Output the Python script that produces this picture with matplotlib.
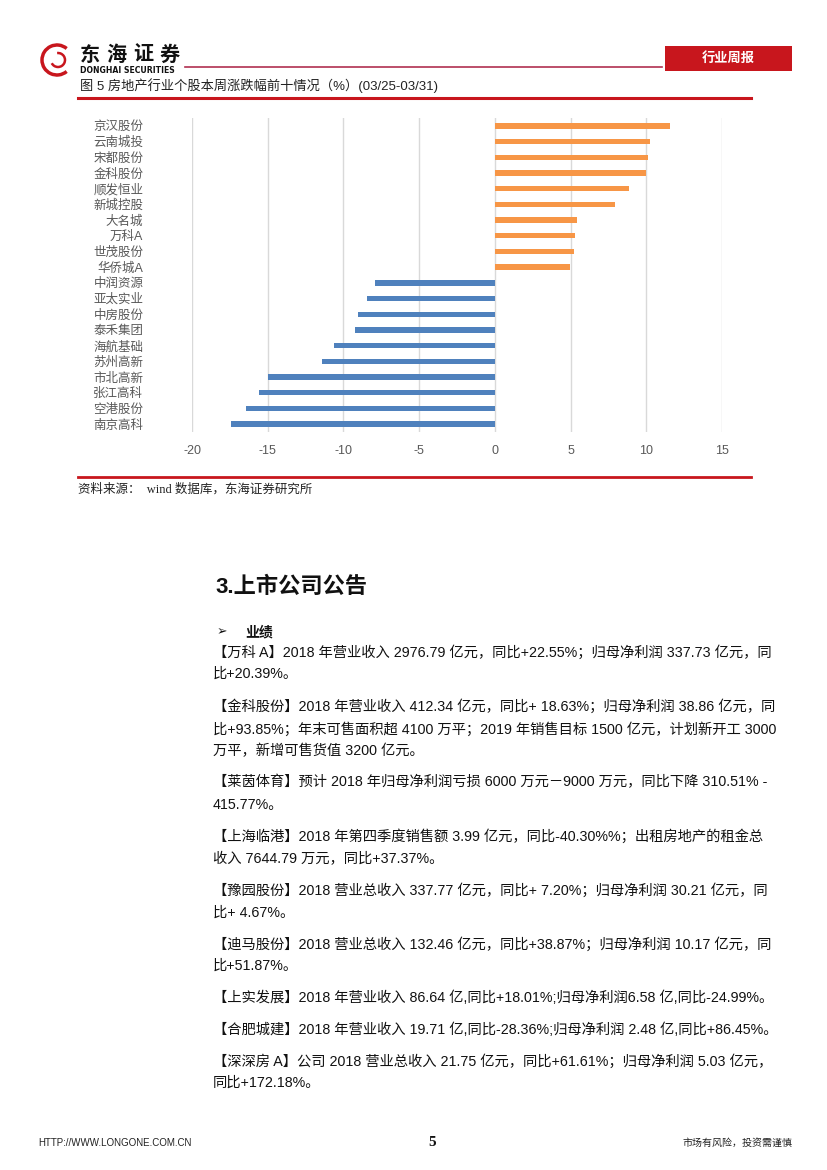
import matplotlib
matplotlib.use('Agg')
import matplotlib.pyplot as plt
from matplotlib.patches import Rectangle, Arc
from matplotlib.lines import Line2D

W, H = 827, 1170
CJK = ['Liberation Sans', 'Noto Sans CJK SC', 'DejaVu Sans']

# 图5 数据（%）
stocks = ['京汉股份', '云南城投', '宋都股份', '金科股份', '顺发恒业', '新城控股', '大名城',
          '万科A', '世茂股份', '华侨城A', '中润资源', '亚太实业', '中房股份', '泰禾集团',
          '海航基础', '苏州高新', '市北高新', '张江高科', '空港股份', '南京高科']
changes = [11.57, 10.24, 10.11, 9.98, 8.87, 7.96, 5.42, 5.27, 5.2, 4.93,
           -7.93, -8.42, -9.02, -9.24, -10.6, -11.44, -15.0, -15.6, -16.44, -17.4]
xticks = [-20, -15, -10, -5, 0, 5, 10, 15]

body_lines = [
    (652, '【万科 A】2018 年营业收入 2976.79 亿元，同比+22.55%；归母净利润 337.73 亿元，同'),
    (674, '比+20.39%。'),
    (706, '【金科股份】2018 年营业收入 412.34 亿元，同比+ 18.63%；归母净利润 38.86 亿元，同'),
    (729, '比+93.85%；年末可售面积超 4100 万平；2019 年销售目标 1500 亿元，计划新开工 3000'),
    (751, '万平，新增可售货值 3200 亿元。'),
    (782, '【莱茵体育】预计 2018 年归母净利润亏损 6000 万元－9000 万元，同比下降 310.51% -'),
    (805, '415.77%。'),
    (836, '【上海临港】2018 年第四季度销售额 3.99 亿元，同比-40.30%%；出租房地产的租金总'),
    (859, '收入 7644.79 万元，同比+37.37%。'),
    (890, '【豫园股份】2018 营业总收入 337.77 亿元，同比+ 7.20%；归母净利润 30.21 亿元，同'),
    (913, '比+ 4.67%。'),
    (944, '【迪马股份】2018 营业总收入 132.46 亿元，同比+38.87%；归母净利润 10.17 亿元，同'),
    (966, '比+51.87%。'),
    (998, '【上实发展】2018 年营业收入 86.64 亿,同比+18.01%;归母净利润6.58 亿,同比-24.99%。'),
    (1030, '【合肥城建】2018 年营业收入 19.71 亿,同比-28.36%;归母净利润 2.48 亿,同比+86.45%。'),
    (1061, '【深深房 A】公司 2018 营业总收入 21.75 亿元，同比+61.61%；归母净利润 5.03 亿元，'),
    (1083, '同比+172.18%。'),
]


def fx(x):
    return x / W


def fy(y):
    return 1 - y / H


fig = plt.figure(figsize=(8.27, 11.7), dpi=100)
fig.patch.set_facecolor('white')

# 页眉
red = '#c8161d'
fig.add_artist(Arc((fx(57), fy(60)), 30 / W, 30 / H, theta1=40, theta2=320,
                   transform=fig.transFigure, color=red, lw=2.5))
fig.add_artist(Arc((fx(58), fy(60)), 14 / W, 14 / H, theta1=200, theta2=100,
                   transform=fig.transFigure, color=red, lw=1.8))
for i, ch in enumerate('东海证券'):
    fig.text(fx(80 + i * 26.5), fy(55), ch, fontsize=14.5, fontweight='bold',
             family=CJK, va='center', ha='left', color='#111111')
fig.text(fx(80), fy(70.5), 'DONGHAI SECURITIES', fontsize=5.6, fontweight='bold',
         family='DejaVu Sans', va='center', ha='left', color='#111111')
fig.add_artist(Line2D([fx(185), fx(662)], [fy(67), fy(67)], color='#b03050', lw=1.2,
                      transform=fig.transFigure))
fig.add_artist(Rectangle((fx(665), fy(71)), 127 / W, 25 / H, transform=fig.transFigure,
                         facecolor=red, edgecolor='none'))
fig.text(fx(728), fy(58.5), '行业周报', fontsize=9.5, fontweight='bold', family=CJK,
         color='white', ha='center', va='center')

# 图标题
fig.text(fx(80), fy(86), '图 5 房地产行业个股本周涨跌幅前十情况（%）(03/25-03/31)',
         fontsize=9.5, family=CJK, va='center', ha='left', color='#222222')
fig.add_artist(Line2D([fx(78), fx(751)], [fy(98), fy(98)], color=red, lw=2.2,
                      transform=fig.transFigure))

# 柱状图
ax = fig.add_axes([fx(192), fy(432), 530 / W, 314 / H])
ypos = list(range(len(stocks)))
colors = ['#f79646' if v > 0 else '#4f81bd' for v in changes]
ax.barh(ypos, changes, height=0.34, color=colors, zorder=3)
ax.set_xlim(-20, 15)
ax.set_ylim(len(stocks) - 0.5, -0.5)
ax.set_xticks(xticks)
ax.set_xticklabels([str(t) for t in xticks])
ax.set_yticks(ypos)
ax.set_yticklabels(stocks, family=CJK)
ax.grid(axis='x', color='#d9d9d9', lw=1, zorder=0)
for s in ax.spines.values():
    s.set_visible(False)
ax.tick_params(axis='x', length=0, pad=9, labelsize=9, labelcolor='#595959')
ax.tick_params(axis='y', length=0, pad=35, labelsize=9, labelcolor='#595959')
for lab in ax.get_xticklabels():
    lab.set_family(CJK)

fig.add_artist(Line2D([fx(78), fx(751)], [fy(477), fy(477)], color=red, lw=2.0,
                      transform=fig.transFigure))
fig.text(fx(78), fy(489), '资料来源：  wind 数据库，东海证券研究所', fontsize=9,
         family=['Liberation Serif', 'Noto Sans CJK SC'], va='center', ha='left',
         color='#222222')

# 正文
fig.text(fx(215), fy(587), '3.上市公司公告', fontsize=16, fontweight='bold', family=CJK,
         va='center', ha='left', color='#111111')
fig.text(fx(217), fy(632), '➢', fontsize=9, family='DejaVu Sans', va='center', ha='left',
         color='#111111')
fig.text(fx(245), fy(632), '业绩', fontsize=10, fontweight='bold', family=CJK,
         va='center', ha='left', color='#111111')
for y, line in body_lines:
    fig.text(fx(213), fy(y), line, fontsize=10.3, family=CJK, va='center', ha='left',
             color='#111111')

# 页脚
fig.text(fx(38), fy(1143), 'HTTP://WWW.LONGONE.COM.CN', fontsize=7, family='Liberation Sans',
         va='center', ha='left', color='#222222')
fig.text(fx(432), fy(1143), '5', fontsize=11, fontweight='bold', family='Liberation Serif',
         va='center', ha='center', color='#111111')
fig.text(fx(792), fy(1143), '市场有风险，投资需谨慎', fontsize=7.2, family=CJK,
         va='center', ha='right', color='#222222')

fig.savefig('out.png', dpi=100, facecolor='white')
